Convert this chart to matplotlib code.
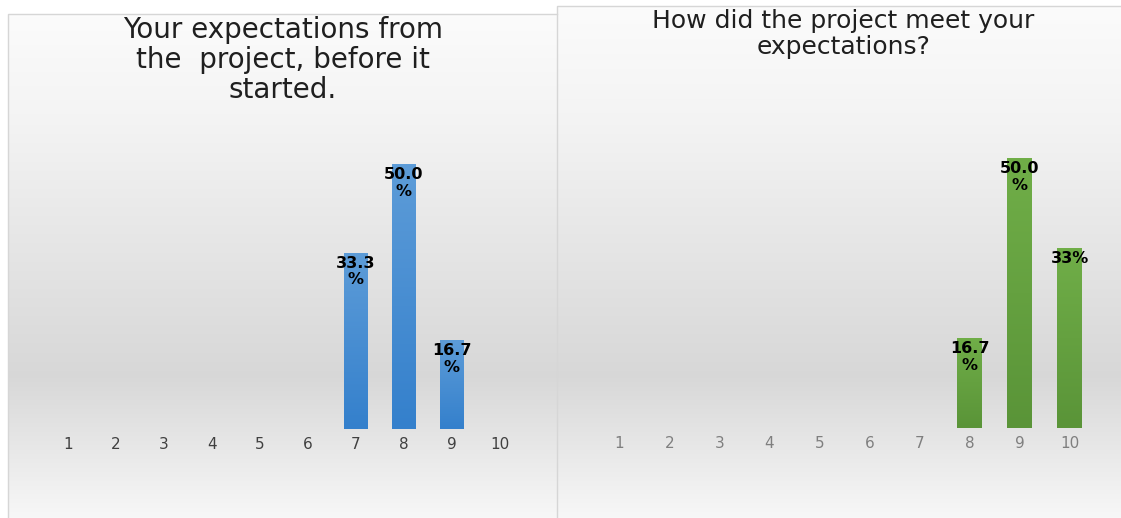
import numpy as np
import matplotlib
matplotlib.use("Agg")
import matplotlib.pyplot as plt
from matplotlib.lines import Line2D
from matplotlib.colors import to_rgb

# Survey answers on a 1-10 scale, share of respondents (%)
scores = list(range(1, 11))
before_values = [0, 0, 0, 0, 0, 0, 33.3, 50.0, 16.7, 0]
before_labels = ["", "", "", "", "", "", "33.3\n%", "50.0\n%", "16.7\n%", ""]
after_values = [0, 0, 0, 0, 0, 0, 0, 16.7, 50.0, 33.3]
after_labels = ["", "", "", "", "", "", "", "16.7\n%", "50.0\n%", "33%"]

before_title = "Your expectations from\nthe  project, before it\nstarted."
after_title = "How did the project meet your\nexpectations?"

W, H = 1121, 518
fig = plt.figure(figsize=(W / 100, H / 100), dpi=100)
fig.patch.set_facecolor("white")


def rect(x0, y0, x1, y1):
    """Pixel box (top-left origin) to figure fraction rect."""
    return [x0 / W, 1 - y1 / H, (x1 - x0) / W, (y1 - y0) / H]


def panel_background(x0, y0, x1, y1):
    """Vertical white-grey-white gradient behind a chart."""
    ax = fig.add_axes(rect(x0, y0, x1, y1), zorder=0)
    rows = np.arange(y0, y1)
    grey = np.interp(rows, [y0, 120, 375, 518], [0.985, 0.955, 0.845, 0.97])
    img = np.repeat(grey[:, None, None], 3, axis=2)
    ax.imshow(img, aspect="auto", extent=[0, 1, 0, 1])
    ax.set_axis_off()
    return ax


def border(points):
    xs = [p[0] / W for p in points]
    ys = [1 - p[1] / H for p in points]
    fig.add_artist(Line2D(xs, ys, color="#d6d6d6", lw=1.0, zorder=5))


def gradient_bars(ax, values, labels, top_color, bottom_color, tick_color):
    bars = ax.bar(scores, values, width=0.5, color=top_color, zorder=2,
                  edgecolor="none")
    c_top = np.array(to_rgb(top_color))
    c_bot = np.array(to_rgb(bottom_color))
    t = np.linspace(0, 1, 100)[:, None]
    grad = (c_top * (1 - t) + c_bot * t)[:, None, :]
    for bar, lab in zip(bars, labels):
        h = bar.get_height()
        if h <= 0:
            continue
        x = bar.get_x()
        w = bar.get_width()
        im = ax.imshow(grad, aspect="auto", extent=[x, x + w, 0, h],
                       zorder=3)
        im.set_clip_path(bar)
        ax.annotate(lab, (x + w / 2, h), xytext=(0, -3),
                    textcoords="offset pixels", ha="center", va="top",
                    fontsize=11.5, fontweight="bold", color="black",
                    linespacing=1.15, zorder=4)
    ax.set_xlim(0.5, 10.5)
    ax.set_ylim(0, 60)
    ax.set_xticks(scores)
    ax.set_xticklabels([str(s) for s in scores])
    ax.tick_params(axis="x", length=0, pad=6, labelsize=11,
                   labelcolor=tick_color)
    ax.set_yticks([])
    for sp in ax.spines.values():
        sp.set_visible(False)
    ax.patch.set_alpha(0)


# Left chart: expectations before the project
panel_background(8, 14, 557, 518)
border([(8, 518), (8, 14), (557, 14)])
ax1 = fig.add_axes(rect(44, 111, 524, 429), zorder=2)
gradient_bars(ax1, before_values, before_labels, "#5d9cd8", "#3480cc",
              "#404040")
fig.text(283 / W, 1 - 60 / H, before_title, ha="center", va="center",
         fontsize=20, color="#1f1f1f", linespacing=1.07, zorder=6)

# Right chart: how the project met expectations
panel_background(557, 6, 1121, 518)
border([(557, 518), (557, 6), (1121, 6)])
ax2 = fig.add_axes(rect(594.5, 104, 1094.5, 428), zorder=2)
gradient_bars(ax2, after_values, after_labels, "#70ae48", "#5a9438",
              "#7f7f7f")
fig.text(843.5 / W, 1 - 34 / H, after_title, ha="center", va="center",
         fontsize=18, color="#1f1f1f", linespacing=1.07, zorder=6)

fig.savefig("out.png", dpi=100)
